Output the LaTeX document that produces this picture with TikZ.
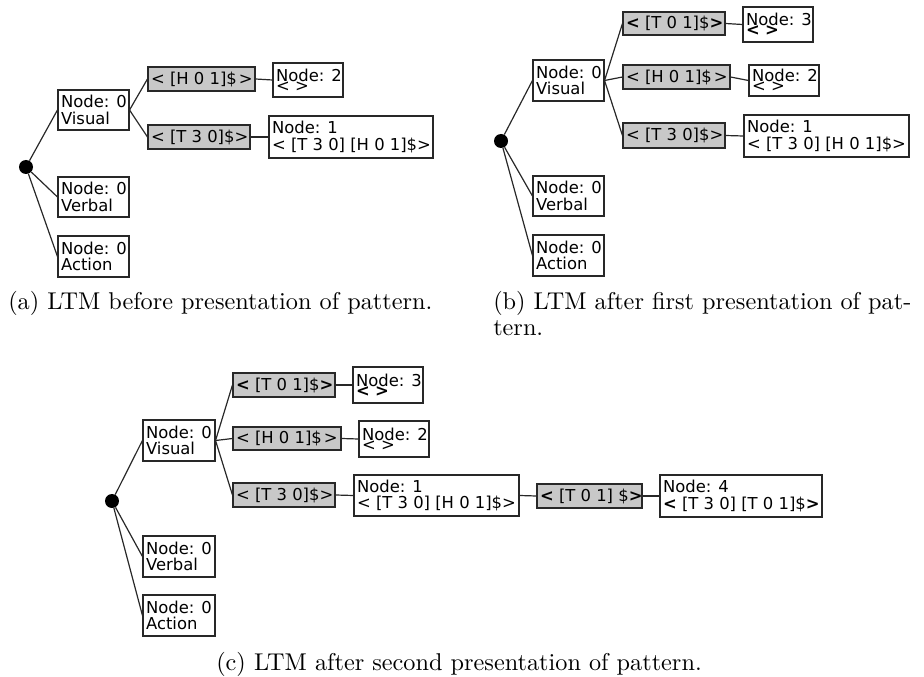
\documentclass[tikz,border=0pt]{standalone}
\usepackage{graphicx}
\usepackage{fontspec}
\newfontfamily\boxfont{DejaVu Sans}
\definecolor{boxgray}{RGB}{200,200,200}
\definecolor{linecol}{RGB}{40,40,40}
\tikzset{
  wbox/.style={draw=linecol, line width=0.8pt, fill=white, inner sep=0pt, rectangle},
  gbox/.style={draw=linecol, line width=0.8pt, fill=boxgray, inner sep=0pt, rectangle},
  txt/.style={anchor=west, inner sep=0pt, align=left, font=\boxfont\fontsize{12.3}{12.3}\selectfont},
  conn/.style={draw=linecol, line width=0.9pt},
  rootdot/.style={circle, fill=black, minimum size=10.5pt, inner sep=0pt},
  captext/.style={anchor=base west, inner sep=0pt, font=\fontsize{10}{10.3}\selectfont}
}
\newcommand\tbox[7]{%
  \node[#6, minimum width={(#4-#2)*0.75pt}, minimum height={(#5-#3)*0.75pt}] (#1) at ({(#2+#4)/2},{(#3+#5)/2}) {};
  \node[txt] (#1t) at ([xshift=2.5pt]#1.west) {#7};}
\newcommand\bl{\textbf{<}}
\newcommand\br{\textbf{>}}
\begin{document}
\begin{tikzpicture}[x=0.75pt,y=-0.75pt]
\useasboundingbox (0,0) rectangle (924,677);
% ---------------- panel (a)
\node[rootdot] (ra) at (26,167) {};
\tbox{aV}{58}{90}{129}{130}{wbox}{Node: 0\\Visual}
\tbox{aVb}{58}{177}{129}{217}{wbox}{Node: 0\\Verbal}
\tbox{aA}{58}{236}{129}{277}{wbox}{Node: 0\\Action}
\tbox{aH}{148}{67}{255}{91}{gbox}{< [H 0 1]\$\kern1.5pt>}
\tbox{a2}{273}{63}{343}{97}{wbox}{Node: 2\\[-4.8pt]< >}
\tbox{aT}{148}{125}{250}{149}{gbox}{< [T 3 0]\$>}
\tbox{a1}{269}{116}{433}{158}{wbox}{Node: 1\\< [T 3 0] [H 0 1]\$>}
\draw[conn] (ra) -- (aV.west);
\draw[conn] (ra) -- (aVb.west);
\draw[conn] (ra) -- (aA.west);
\draw[conn] (aV.east) -- (aH.west);
\draw[conn] (aV.east) -- (aT.west);
\draw[conn] (aH.east) -- (a2.west);
\draw[conn] (aT.east) -- (a1.west);
% ---------------- panel (b)
\node[rootdot] (rb) at (501,141) {};
\tbox{bV}{533}{60}{604}{101}{wbox}{Node: 0\\Visual}
\tbox{bVb}{533}{176}{604}{216}{wbox}{Node: 0\\Verbal}
\tbox{bA}{533}{235}{604}{276}{wbox}{Node: 0\\Action}
\tbox{bT1}{623}{12}{725}{35}{gbox}{\bl\ [T 0 1]\$\br}
\tbox{b3}{743}{7}{813}{42}{wbox}{Node: 3\\[-4.8pt]\bl\ \br}
\tbox{bH}{623}{65}{730}{89}{gbox}{< [H 0 1]\$\kern1.5pt>}
\tbox{b2}{749}{65}{819}{96}{wbox}{Node: 2\\[-4.8pt]< >}
\tbox{bT}{623}{123}{725}{148}{gbox}{< [T 3 0]\$>}
\tbox{b1}{744}{115}{909}{157}{wbox}{Node: 1\\< [T 3 0] [H 0 1]\$>}
\draw[conn] (rb) -- (bV.west);
\draw[conn] (rb) -- (bVb.west);
\draw[conn] (rb) -- (bA.west);
\draw[conn] (bV.east) -- (bT1.west);
\draw[conn] (bV.east) -- (bH.west);
\draw[conn] (bV.east) -- (bT.west);
\draw[conn] (bT1.east) -- (b3.west);
\draw[conn] (bH.east) -- (b2.west);
\draw[conn] (bT.east) -- (b1.west);
% ---------------- panel (c)
\node[rootdot] (rc) at (112,501) {};
\tbox{cV}{143}{420}{215}{461}{wbox}{Node: 0\\Visual}
\tbox{cVb}{143}{536}{215}{577}{wbox}{Node: 0\\Verbal}
\tbox{cA}{143}{595}{215}{636}{wbox}{Node: 0\\Action}
\tbox{cT1}{233}{373}{335}{397}{gbox}{\bl\ [T 0 1]\$\br}
\tbox{c3}{353}{367}{423}{403}{wbox}{Node: 3\\[-4.8pt]\bl\ \br}
\tbox{cH}{233}{427}{341}{450}{gbox}{< [H 0 1]\$\kern1.5pt>}
\tbox{c2}{359}{421}{429}{457}{wbox}{Node: 2\\[-4.8pt]< >}
\tbox{cT}{233}{483}{335}{507}{gbox}{< [T 3 0]\$>}
\tbox{c1}{354}{475}{519}{516}{wbox}{Node: 1\\< [T 3 0] [H 0 1]\$>}
\tbox{cT1b}{537}{484}{642}{508}{gbox}{\bl\ [T 0 1] \$\br}
\tbox{c4}{660}{475}{822}{517}{wbox}{Node: 4\\\bl\ [T 3 0] [T 0 1]\$\br}
\draw[conn] (rc) -- (cV.west);
\draw[conn] (rc) -- (cVb.west);
\draw[conn] (rc) -- (cA.west);
\draw[conn] (cV.east) -- (cT1.west);
\draw[conn] (cV.east) -- (cH.west);
\draw[conn] (cV.east) -- (cT.west);
\draw[conn] (cT1.east) -- (c3.west);
\draw[conn] (cH.east) -- (c2.west);
\draw[conn] (cT.east) -- (c1.west);
\draw[conn] (c1.east) -- (cT1b.west);
\draw[conn] (cT1b.east) -- (c4.west);
% ---------------- captions
\node[captext] (capa) at (8,310) {\scalebox{1.82}{(a) LTM before presentation of pattern.}};
\node[captext] (capb) at (493,310) {\scalebox{1.82}{\begin{tabular}[t]{@{}l@{}}(b) LTM after first presentation of pat-\\[0.2pt]tern.\end{tabular}}};
\node[captext] (capc) at (216,670) {\scalebox{1.82}{(c) LTM after second presentation of pattern.}};
\end{tikzpicture}
\end{document}
